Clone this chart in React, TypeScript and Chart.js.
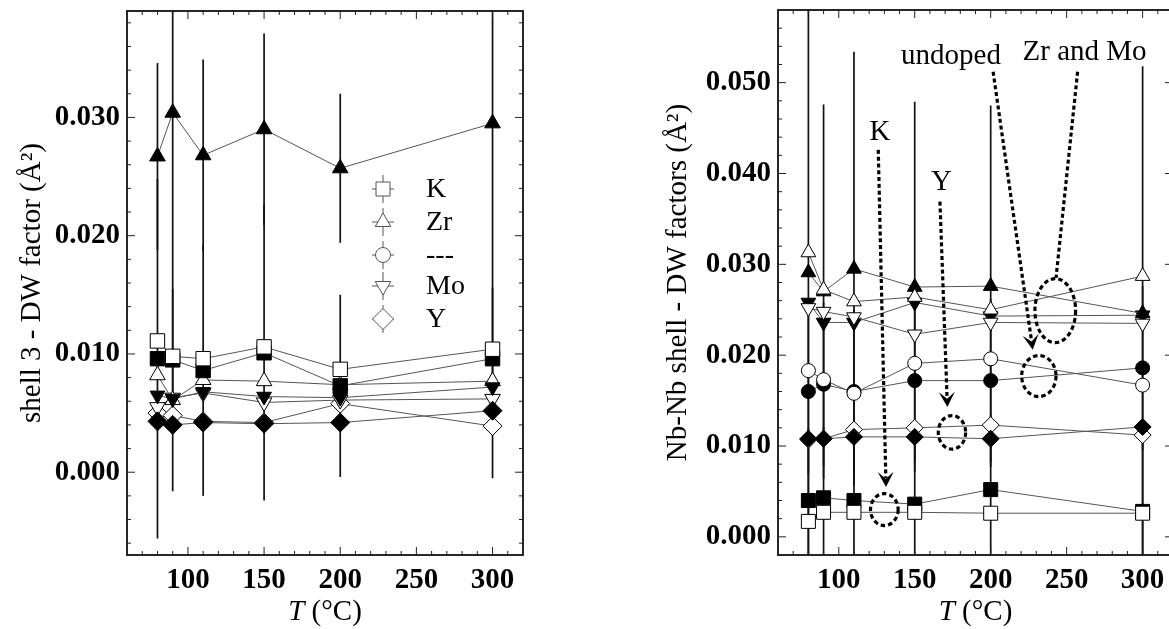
import React, { useEffect, useRef } from 'react';
import { Chart, registerables } from 'chart.js';

Chart.register(...registerables);

// ---------------- DATA ----------------
const temperatures = [80, 90, 110, 150, 200, 300];
const tempTickLabels = [100, 150, 200, 250, 300];

// Left panel: shell 3 - DW factor (Å²)
const s3KOpen = [0.0111, 0.0098, 0.0096, 0.0106, 0.0087, 0.0104];
const s3KFilled = [0.0096, 0.0095, 0.0086, 0.0101, 0.0073, 0.0096];
const s3ZrOpen = [0.0082, 0.0061, 0.0078, 0.0077, 0.0074, 0.0077];
const s3ZrFilled = [0.0267, 0.0304, 0.0268, 0.029, 0.0257, 0.0295];
const s3MoOpen = [0.0055, 0.0063, 0.0067, 0.0059, 0.0061, 0.0062];
const s3MoFilled = [0.0065, 0.0062, 0.0068, 0.0064, 0.0063, 0.0072];
const s3YOpen = [0.005, 0.0048, 0.0043, 0.0042, 0.0058, 0.0039];
const s3YFilled = [0.0043, 0.004, 0.0042, 0.0041, 0.0042, 0.0052];
const s3ZrFilledErr = [0.0079, 0.032, 0.0081, 0.0081, 0.0063, 0.03];
const s3KFilledErr = [0.0152, 0.006, 0.0106, 0.0125, 0.0077, 0.006];
const s3YTickLabels = [0.0, 0.01, 0.02, 0.03];
const s3LegendLabels = ['K', 'Zr', '---', 'Mo', 'Y'];

// Right panel: Nb-Nb shell - DW factors (Å²)
const nbKOpen = [0.0017, 0.0027, 0.0027, 0.0027, 0.0026, 0.0026];
const nbKFilled = [0.004, 0.0043, 0.004, 0.0036, 0.0052, 0.0028];
const nbZrOpen = [0.0313, 0.0272, 0.0259, 0.0264, 0.025, 0.0287];
const nbZrFilled = [0.0291, 0.027, 0.0295, 0.0275, 0.0276, 0.0246];
const nbMoOpen = [0.0252, 0.0248, 0.0242, 0.0223, 0.0236, 0.0235];
const nbMoFilled = [0.0258, 0.0236, 0.0236, 0.0258, 0.0243, 0.0244];
const nbUndOpen = [0.0183, 0.0173, 0.0158, 0.0191, 0.0196, 0.0167];
const nbUndFilled = [0.016, 0.0168, 0.016, 0.0172, 0.0172, 0.0186];
const nbYOpen = [0.0107, 0.0108, 0.0118, 0.012, 0.0123, 0.0112];
const nbYFilled = [0.0108, 0.0108, 0.011, 0.011, 0.0108, 0.0121];
const nbZrFilledErr = [0.033, 0.0206, 0.0239, 0.0204, 0.0199, 0.0272];
const nbKFilledErr = [0.008, 0.0078, 0.0078, 0.0078, 0.0082, 0.008];
const nbUndFilledErr = [0.009, 0.009, 0.009, 0.009, 0.009, 0.009];
const nbYTickLabels = [0.0, 0.01, 0.02, 0.03, 0.04, 0.05];

// annotations (data coordinates)
const nbNoteTexts = ['K', 'Y', 'undoped', 'Zr and Mo'];
const nbNoteX = [127.1, 167.6, 173.9, 261.8];
const nbNoteY = [0.0437, 0.0382, 0.0521, 0.0525];
const nbArrowFromX = [126.0, 166.6, 201.6, 257.2];
const nbArrowFromY = [0.0426, 0.0369, 0.0512, 0.0512];
const nbArrowToX = [131.1, 171.5, 227.7, 243.0];
const nbArrowToY = [0.0055, 0.0143, 0.0206, 0.0285];
const nbArrowHead = [true, true, true, false];
const nbEllipseX = [130.0, 174.5, 231.7, 242.5];
const nbEllipseY = [0.003, 0.0115, 0.0177, 0.0249];
const nbEllipseRx = [9.1, 9.0, 11.3, 13.4];
const nbEllipseRy = [0.00176, 0.00185, 0.00226, 0.00352];

// ---------------- HELPERS ----------------
type Shape = 'rect' | 'triangle' | 'circle' | 'rectRot';
interface Series {
  label: string;
  data: number[];
  shape: Shape;
  down?: boolean;
  filled: boolean;
  r: number;
  err?: number[];
}

const FONT = "'Liberation Serif', 'Times New Roman', serif";

function pathShape(ctx: CanvasRenderingContext2D, shape: Shape, x: number, y: number, r: number, down?: boolean) {
  ctx.beginPath();
  if (shape === 'rect') {
    ctx.rect(x - r, y - r, 2 * r, 2 * r);
  } else if (shape === 'circle') {
    ctx.arc(x, y, r, 0, Math.PI * 2);
  } else if (shape === 'rectRot') {
    ctx.moveTo(x - r, y);
    ctx.lineTo(x, y - r);
    ctx.lineTo(x + r, y);
    ctx.lineTo(x, y + r);
    ctx.closePath();
  } else {
    const s = down ? -1 : 1;
    ctx.moveTo(x, y - s * r);
    ctx.lineTo(x + 0.866 * r, y + s * 0.5 * r);
    ctx.lineTo(x - 0.866 * r, y + s * 0.5 * r);
    ctx.closePath();
  }
}

function buildTicks(min: number, max: number, step: number) {
  const out: { value: number }[] = [];
  const start = Math.ceil(min / step - 1e-9);
  const end = Math.floor(max / step + 1e-9);
  for (let k = start; k <= end; k++) out.push({ value: +(k * step).toFixed(6) });
  return out;
}

const isIn = (arr: number[], v: number) => arr.some((m) => Math.abs(m - v) < 1e-7);

interface PanelCfg {
  width: number;
  left: number;
  yAxisWidth: number;
  xAxisHeight: number;
  padTop: number;
  padRight: number;
  xMin: number;
  xMax: number;
  yMin: number;
  yMax: number;
  yMinor: number;
  yMajor: number[];
  yTitle: string;
  yTitleX: number;
  series: Series[];
  legend?: boolean;
  notes?: boolean;
}

const leftCfg: PanelCfg = {
  width: 580,
  left: 0,
  yAxisWidth: 127,
  xAxisHeight: 74,
  padTop: 11,
  padRight: 57,
  xMin: 60,
  xMax: 320,
  yMin: -0.007,
  yMax: 0.039,
  yMinor: 0.002,
  yMajor: s3YTickLabels,
  yTitle: 'shell 3 - DW factor (Å²)',
  yTitleX: 32,
  legend: true,
  series: [
    { label: 'Y filled', data: s3YFilled, shape: 'rectRot', filled: true, r: 9.5 },
    { label: 'K open', data: s3KOpen, shape: 'rect', filled: false, r: 7.2 },
    { label: 'K filled', data: s3KFilled, shape: 'rect', filled: true, r: 7.2, err: s3KFilledErr },
    { label: 'Zr filled', data: s3ZrFilled, shape: 'triangle', filled: true, r: 9, err: s3ZrFilledErr },
    { label: 'Mo filled', data: s3MoFilled, shape: 'triangle', down: true, filled: true, r: 8.5 },
    { label: 'Zr open', data: s3ZrOpen, shape: 'triangle', filled: false, r: 9 },
    { label: 'Mo open', data: s3MoOpen, shape: 'triangle', down: true, filled: false, r: 9 },
    { label: 'Y open', data: s3YOpen, shape: 'rectRot', filled: false, r: 9.5 },
  ],
};

const rightCfg: PanelCfg = {
  width: 600,
  left: 580,
  yAxisWidth: 198,
  xAxisHeight: 74,
  padTop: 10,
  padRight: 7,
  xMin: 60,
  xMax: 320,
  yMin: -0.002,
  yMax: 0.058,
  yMinor: 0.002,
  yMajor: nbYTickLabels,
  yTitle: 'Nb-Nb shell - DW factors (Å²)',
  yTitleX: 98,
  notes: true,
  series: [
    { label: 'K open', data: nbKOpen, shape: 'rect', filled: false, r: 7 },
    { label: 'K filled', data: nbKFilled, shape: 'rect', filled: true, r: 7, err: nbKFilledErr },
    { label: 'Y filled', data: nbYFilled, shape: 'rectRot', filled: true, r: 8.5 },
    { label: 'Y open', data: nbYOpen, shape: 'rectRot', filled: false, r: 8.5 },
    { label: 'undoped open', data: nbUndOpen, shape: 'circle', filled: false, r: 7 },
    { label: 'undoped filled', data: nbUndFilled, shape: 'circle', filled: true, r: 7, err: nbUndFilledErr },
    { label: 'Zr open', data: nbZrOpen, shape: 'triangle', filled: false, r: 8.5 },
    { label: 'Zr filled', data: nbZrFilled, shape: 'triangle', filled: true, r: 8.5, err: nbZrFilledErr },
    { label: 'Mo open', data: nbMoOpen, shape: 'triangle', down: true, filled: false, r: 8.5 },
    { label: 'Mo filled', data: nbMoFilled, shape: 'triangle', down: true, filled: true, r: 8.5 },
  ],
};

function makeDeco(cfg: PanelCfg) {
  return {
    id: 'deco',
    beforeDatasetsDraw(chart: any) {
      const { ctx, chartArea: a, scales } = chart;
      const x = scales.x, y = scales.y;
      ctx.save();
      ctx.beginPath();
      ctx.rect(a.left, a.top, a.right - a.left, a.bottom - a.top);
      ctx.clip();
      ctx.strokeStyle = '#111';
      ctx.lineWidth = 1.7;
      cfg.series.forEach((s) => {
        if (!s.err) return;
        temperatures.forEach((t, i) => {
          const px = x.getPixelForValue(t);
          ctx.beginPath();
          ctx.moveTo(px, y.getPixelForValue(s.data[i] + s.err![i]));
          ctx.lineTo(px, y.getPixelForValue(s.data[i] - s.err![i]));
          ctx.stroke();
        });
      });
      ctx.restore();
    },
    afterDatasetsDraw(chart: any) {
      const { ctx, chartArea: a, scales } = chart;
      const x = scales.x, y = scales.y;
      ctx.save();
      // annotations
      if (cfg.notes) {
        ctx.strokeStyle = '#000';
        ctx.fillStyle = '#000';
        ctx.lineWidth = 3.2;
        for (let i = 0; i < nbNoteTexts.length; i++) {
          const x0 = x.getPixelForValue(nbArrowFromX[i]);
          const y0 = y.getPixelForValue(nbArrowFromY[i]);
          const x1 = x.getPixelForValue(nbArrowToX[i]);
          const y1 = y.getPixelForValue(nbArrowToY[i]);
          const ang = Math.atan2(y1 - y0, x1 - x0);
          const headLen = nbArrowHead[i] ? 15 : 0;
          ctx.setLineDash([4, 2.8]);
          ctx.beginPath();
          ctx.moveTo(x0, y0);
          ctx.lineTo(x1 - Math.cos(ang) * headLen * 0.6, y1 - Math.sin(ang) * headLen * 0.6);
          ctx.stroke();
          ctx.setLineDash([]);
          if (nbArrowHead[i]) {
            const w = 8;
            ctx.beginPath();
            ctx.moveTo(x1, y1);
            ctx.lineTo(x1 - Math.cos(ang) * headLen - Math.sin(ang) * w, y1 - Math.sin(ang) * headLen + Math.cos(ang) * w);
            ctx.lineTo(x1 - Math.cos(ang) * headLen * 0.55, y1 - Math.sin(ang) * headLen * 0.55);
            ctx.lineTo(x1 - Math.cos(ang) * headLen + Math.sin(ang) * w, y1 - Math.sin(ang) * headLen - Math.cos(ang) * w);
            ctx.closePath();
            ctx.fill();
          }
          const cx = x.getPixelForValue(nbEllipseX[i]);
          const cy = y.getPixelForValue(nbEllipseY[i]);
          const rx = Math.abs(x.getPixelForValue(nbEllipseX[i] + nbEllipseRx[i]) - cx);
          const ry = Math.abs(y.getPixelForValue(nbEllipseY[i] + nbEllipseRy[i]) - cy);
          ctx.setLineDash([4.5, 3]);
          ctx.beginPath();
          ctx.ellipse(cx, cy, rx, ry, 0, 0, Math.PI * 2);
          ctx.stroke();
          ctx.setLineDash([]);
          ctx.font = `29px ${FONT}`;
          ctx.textAlign = 'center';
          ctx.textBaseline = 'alphabetic';
          ctx.fillText(nbNoteTexts[i], x.getPixelForValue(nbNoteX[i]), y.getPixelForValue(nbNoteY[i]));
        }
      }
      // legend
      if (cfg.legend) {
        const shapes: Shape[] = ['rect', 'triangle', 'circle', 'triangle', 'rectRot'];
        const downs = [false, false, false, true, false];
        const radii = [7, 9, 7.5, 9, 10.5];
        const rows = [178, 211, 244, 275, 308];
        const mx = a.left + 256;
        const tx = a.left + 299;
        s3LegendLabels.forEach((lab, i) => {
          const my = a.top + rows[i];
          ctx.strokeStyle = '#555';
          ctx.lineWidth = 1;
          ctx.beginPath();
          ctx.moveTo(mx, my - 14);
          ctx.lineTo(mx, my + 14);
          ctx.moveTo(mx - 11, my);
          ctx.lineTo(mx + 11, my);
          ctx.stroke();
          pathShape(ctx, shapes[i], mx, my, radii[i], downs[i]);
          ctx.fillStyle = '#fff';
          ctx.fill();
          ctx.stroke();
          ctx.fillStyle = '#000';
          ctx.font = `28px ${FONT}`;
          ctx.textAlign = 'left';
          ctx.textBaseline = 'middle';
          ctx.fillText(lab, tx, my + 1);
        });
      }
      // ticks
      ctx.strokeStyle = '#222';
      ctx.lineWidth = 1;
      x.ticks.forEach((t: any) => {
        const px = x.getPixelForValue(t.value);
        if (px < a.left + 1 || px > a.right - 1) return;
        const len = isIn(tempTickLabels, t.value) ? 8 : 4;
        ctx.beginPath();
        ctx.moveTo(px, a.bottom);
        ctx.lineTo(px, a.bottom - len);
        ctx.moveTo(px, a.top);
        ctx.lineTo(px, a.top + len);
        ctx.stroke();
      });
      y.ticks.forEach((t: any) => {
        const py = y.getPixelForValue(t.value);
        if (py < a.top + 1 || py > a.bottom - 1) return;
        const len = isIn(cfg.yMajor, t.value) ? 8 : 4;
        ctx.beginPath();
        ctx.moveTo(a.left, py);
        ctx.lineTo(a.left + len, py);
        ctx.moveTo(a.right, py);
        ctx.lineTo(a.right - len, py);
        ctx.stroke();
      });
      // frame
      ctx.strokeStyle = '#111';
      ctx.lineWidth = 1.8;
      ctx.strokeRect(a.left, a.top, a.right - a.left, a.bottom - a.top);
      ctx.restore();
    },
    afterDraw(chart: any) {
      const { ctx, chartArea: a } = chart;
      ctx.save();
      ctx.fillStyle = '#000';
      // y title
      ctx.translate(cfg.yTitleX, (a.top + a.bottom) / 2);
      ctx.rotate(-Math.PI / 2);
      ctx.font = `29px ${FONT}`;
      ctx.textAlign = 'center';
      ctx.textBaseline = 'middle';
      ctx.fillText(cfg.yTitle, 0, 0);
      ctx.restore();
      // x title: italic T + (°C)
      ctx.save();
      ctx.fillStyle = '#000';
      ctx.textBaseline = 'middle';
      ctx.textAlign = 'left';
      const tItalic = 'T';
      const rest = ' (°C)';
      ctx.font = `italic 29px ${FONT}`;
      const w1 = ctx.measureText(tItalic).width;
      ctx.font = `29px ${FONT}`;
      const w2 = ctx.measureText(rest).width;
      const cx = (a.left + a.right) / 2;
      const ty = a.bottom + 57;
      const sx = cx - (w1 + w2) / 2;
      ctx.font = `italic 29px ${FONT}`;
      ctx.fillText(tItalic, sx, ty);
      ctx.font = `29px ${FONT}`;
      ctx.fillText(rest, sx + w1, ty);
      ctx.restore();
    },
  };
}

function Panel({ cfg }: { cfg: PanelCfg }) {
  const ref = useRef<HTMLCanvasElement | null>(null);
  useEffect(() => {
    if (!ref.current) return;
    const tickFont = { family: FONT, size: 29, weight: 'bold' as const };
    const chart = new Chart(ref.current, {
      type: 'line',
      data: {
        datasets: cfg.series.map((s) => ({
          label: s.label,
          data: temperatures.map((t, i) => ({ x: t, y: s.data[i] })),
          borderColor: '#555',
          borderWidth: 1,
          pointStyle: s.shape,
          pointRotation: s.down ? 180 : 0,
          pointRadius: s.shape === 'rect' ? s.r * Math.SQRT2 : s.r,
          pointBackgroundColor: s.filled ? '#000' : '#fff',
          pointBorderColor: '#000',
          pointBorderWidth: 1,
          fill: false,
          tension: 0,
        })),
      },
      options: {
        responsive: false,
        animation: false,
        devicePixelRatio: 1,
        events: [],
        layout: { autoPadding: false, padding: { left: 0, top: cfg.padTop, right: cfg.padRight, bottom: 0 } },
        plugins: { legend: { display: false }, tooltip: { enabled: false }, title: { display: false } },
        scales: {
          x: {
            type: 'linear',
            min: cfg.xMin,
            max: cfg.xMax,
            grid: { display: false, drawTicks: false },
            border: { display: false },
            ticks: {
              autoSkip: false,
              maxRotation: 0,
              minRotation: 0,
              padding: 8,
              color: '#000',
              font: tickFont,
              callback: (v: any) => (isIn(tempTickLabels, Number(v)) ? String(Math.round(Number(v))) : ''),
            },
            afterBuildTicks: (scale: any) => {
              scale.ticks = buildTicks(cfg.xMin, cfg.xMax, 10);
            },
            afterFit: (scale: any) => {
              scale.height = cfg.xAxisHeight;
              scale.paddingLeft = 0;
              scale.paddingRight = 0;
              scale.paddingTop = 0;
              scale.paddingBottom = 0;
            },
          },
          y: {
            type: 'linear',
            min: cfg.yMin,
            max: cfg.yMax,
            grid: { display: false, drawTicks: false },
            border: { display: false },
            ticks: {
              autoSkip: false,
              padding: 7,
              color: '#000',
              font: tickFont,
              callback: (v: any) => (isIn(cfg.yMajor, Number(v)) ? Number(v).toFixed(3) : ''),
            },
            afterBuildTicks: (scale: any) => {
              scale.ticks = buildTicks(cfg.yMin, cfg.yMax, cfg.yMinor);
            },
            afterFit: (scale: any) => {
              scale.width = cfg.yAxisWidth;
              scale.paddingLeft = 0;
              scale.paddingRight = 0;
              scale.paddingTop = 0;
              scale.paddingBottom = 0;
            },
          },
        },
      } as any,
      plugins: [makeDeco(cfg)],
    });
    return () => chart.destroy();
  }, [cfg]);
  return (
    <canvas
      ref={ref}
      width={cfg.width}
      height={629}
      style={{ position: 'absolute', left: cfg.left, top: 0, width: cfg.width, height: 629 }}
    />
  );
}

export default function App() {
  return (
    <div
      style={{
        position: 'absolute',
        left: 0,
        top: 0,
        width: 1169,
        height: 629,
        overflow: 'hidden',
        background: '#fff',
      }}
    >
      <Panel cfg={leftCfg} />
      <Panel cfg={rightCfg} />
    </div>
  );
}
